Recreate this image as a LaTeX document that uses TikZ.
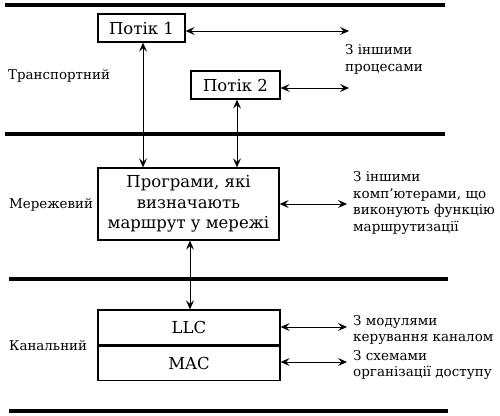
\documentclass[tikz,border=0pt]{standalone}
\usepackage{fontspec}
\setmainfont{DejaVu Serif}
\usetikzlibrary{arrows.meta}
\begin{document}
\begin{tikzpicture}[x=1pt,y=-1pt,
  layerline/.style={line width=3.5pt},
  box/.style={draw,line width=1.3pt,inner sep=0pt,anchor=center,font=\fontsize{16.5}{20.5}\selectfont,align=center},
  conn/.style={line width=0.9pt,{Stealth[length=9pt,width=8pt,inset=3.5pt]}-{Stealth[length=9pt,width=8pt,inset=3.5pt]}},
  side/.style={anchor=west,align=left,inner sep=0pt,font=\fontsize{13.5}{16.8}\selectfont},
  layer/.style={anchor=west,inner sep=0pt,font=\fontsize{13.4}{15}\selectfont}]
\useasboundingbox (0,0) rectangle (500,415);
% layer lines
\coordinate (l1a) at (5,5);   \coordinate (l1b) at (445,5);
\coordinate (l2a) at (5,134); \coordinate (l2b) at (445,134);
\coordinate (l3a) at (9,279); \coordinate (l3b) at (448,279);
\coordinate (l4a) at (9,411); \coordinate (l4b) at (448,411);
\draw[layerline] (l1a) -- (l1b);
\draw[layerline] (l2a) -- (l2b);
\draw[layerline] (l3a) -- (l3b);
\draw[layerline] (l4a) -- (l4b);
% boxes
\node[box,minimum width=87pt,minimum height=28pt] (p1) at (141.5,28) {Потік 1};
\node[box,minimum width=89pt,minimum height=28pt] (p2) at (235.5,85) {Потік 2};
\node[box,minimum width=181pt,minimum height=72pt] (prog) at (188.5,204) {Програми, які\\визначають\\маршрут у мережі};
\node[box,minimum width=182pt,minimum height=35pt] (llc) at (189,327.5) {LLC};
\node[box,minimum width=182pt,minimum height=34pt,anchor=north] (mac) at (llc.south) {MAC};
% layer labels
\node[layer] (tr) at (8,76) {Транспортний};
\node[layer] (mr) at (9,205) {Мережевий};
\node[layer] (kn) at (9,346) {Канальний};
% side texts
\node[side] (t1) at (345,59.5) {З іншими\\процесами};
\node[side] (t2) at (353,203) {З іншими\\комп'ютерами, що\\виконують функцію\\маршрутизації};
\node[side] (t3) at (353,330) {З модулями\\керування каналом};
\node[side] (t4) at (353,365) {З схемами\\організації доступу};
% arrow end coordinates
\coordinate (e1) at (349,31);
\coordinate (e2) at (349,88);
\coordinate (e3) at (347,204);
\coordinate (e4) at (347,327);
\coordinate (e5) at (347,362);
\draw[conn] (p1.east |- e1) -- (e1);
\draw[conn] (p2.east |- e2) -- (e2);
\draw[conn] (prog.east |- e3) -- (e3);
\draw[conn] (llc.east |- e4) -- (e4);
\draw[conn] (mac.east |- e5) -- (e5);
% vertical arrows
\draw[conn] ([xshift=1.5pt]p1.south) -- ([xshift=1.5pt]p1.south |- prog.north);
\draw[conn] ([xshift=1.5pt]p2.south) -- ([xshift=1.5pt]p2.south |- prog.north);
\draw[conn] ([xshift=1.5pt]prog.south) -- ([xshift=1.5pt]prog.south |- llc.north);
\end{tikzpicture}
\end{document}
